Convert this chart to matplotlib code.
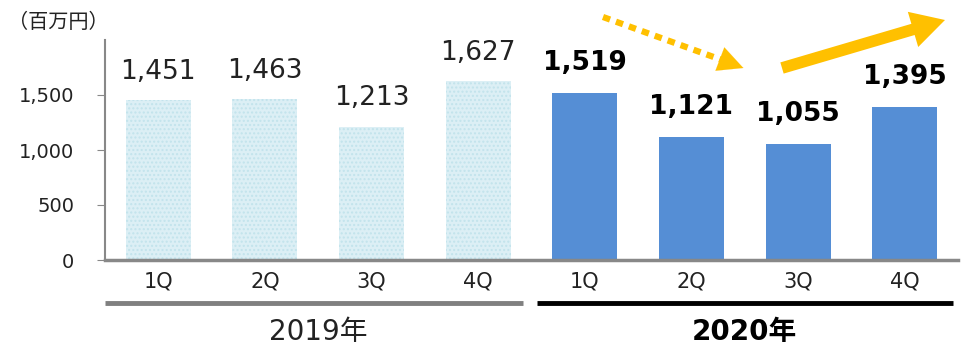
import numpy as np
import matplotlib.pyplot as plt
from matplotlib.transforms import blended_transform_factory

plt.rcParams['font.family'] = ['DejaVu Sans', 'Noto Sans CJK JP']

quarters = ["1Q", "2Q", "3Q", "4Q", "1Q", "2Q", "3Q", "4Q"]
sales_2019 = [1451, 1463, 1213, 1627]
sales_2020 = [1519, 1121, 1055, 1395]
years = ["2019年", "2020年"]

fig = plt.figure(figsize=(9.68, 3.48), dpi=100)
ax = fig.add_axes([105 / 968, 88 / 348, 853 / 968, 220 / 348])

x19 = np.arange(4)
x20 = np.arange(4, 8)
w = 0.61

ax.bar(x19, sales_2019, width=w, color="#dcEFF5", edgecolor="#c2e3ec",
       hatch="....", linewidth=0)
ax.bar(x20, sales_2020, width=w, color="#558ED5", linewidth=0)

for xi, v in zip(x19, sales_2019):
    ax.annotate(f"{v:,}", (xi, v), xytext=(0, 11), textcoords="offset points",
                ha="center", va="bottom", fontsize=19, color="#222222")
for xi, v in zip(x20, sales_2020):
    ax.annotate(f"{v:,}", (xi, v), xytext=(0, 12), textcoords="offset points",
                ha="center", va="bottom", fontsize=19, fontweight="bold",
                color="black")

ax.set_xlim(-0.5, 7.5)
ax.set_ylim(0, 2000)
ax.set_yticks([0, 500, 1000, 1500])
ax.set_yticklabels(["0", "500", "1,000", "1,500"], fontsize=14,
                   color="#222222")
ax.set_xticks(np.arange(8))
ax.set_xticklabels(quarters, fontsize=15, color="#222222")
ax.tick_params(axis="x", length=0, pad=8)
ax.tick_params(axis="y", length=6, color="#888888", pad=16)

for s in ["top", "right"]:
    ax.spines[s].set_visible(False)
ax.spines["left"].set_color("#888888")
ax.spines["left"].set_linewidth(1.5)
ax.spines["bottom"].set_color("#888888")
ax.spines["bottom"].set_linewidth(2.5)

# year groups below the axis
tr = blended_transform_factory(ax.transData, ax.transAxes)
ax.plot([-0.5, 3.42], [-0.195, -0.195], color="#808080", lw=3.5,
        transform=tr, clip_on=False, solid_capstyle="butt")
ax.plot([3.55, 7.45], [-0.195, -0.195], color="black", lw=3.5,
        transform=tr, clip_on=False, solid_capstyle="butt")
ax.text(1.5, -0.325, years[0], transform=tr, ha="center", va="center",
        fontsize=20, color="#222222")
ax.text(5.5, -0.325, years[1], transform=tr, ha="center", va="center",
        fontsize=20, fontweight="bold")

fig.text(8 / 968, 1 - 22 / 348, "（百万円）", fontsize=14.5, va="center",
         ha="left", color="#222222", family=['Noto Sans CJK JP'])

# trend arrows
gold = "#FFC000"
p0 = (603 / 968, 1 - 17 / 348)
p1 = (733 / 968, 1 - 64 / 348)
tip = (746 / 968, 1 - 69 / 348)
fig.add_artist(plt.Line2D([p0[0], p1[0]], [p0[1], p1[1]], color=gold, lw=4.5,
                          linestyle=(0, (1.2, 1.0)), transform=fig.transFigure))
ax.annotate("", xy=tip, xycoords="figure fraction",
            xytext=(725 / 968, 1 - 61 / 348), textcoords="figure fraction",
            arrowprops=dict(arrowstyle="-|>,head_length=0.9,head_width=0.45",
                            color=gold, lw=0.1, mutation_scale=20))
ax.annotate("", xy=(945 / 968, 1 - 20 / 348), xycoords="figure fraction",
            xytext=(782 / 968, 1 - 68 / 348), textcoords="figure fraction",
            arrowprops=dict(arrowstyle="simple,head_length=1.0,head_width=1.1,tail_width=0.35",
                            color=gold, lw=0, mutation_scale=24,
                            shrinkA=0, shrinkB=0))

fig.savefig("out.png", dpi=100)
